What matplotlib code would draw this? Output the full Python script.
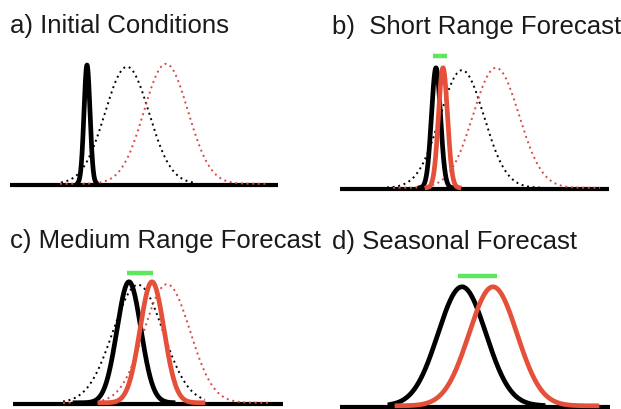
import numpy as np
import matplotlib
matplotlib.use("Agg")
import matplotlib.pyplot as plt

plt.rcParams['font.family'] = ['Liberation Sans', 'DejaVu Sans']

W, H = 621, 409

# ---- data: curve parameters per panel (x in panel units, height relative) ----
titles = ["a) Initial Conditions", "b)  Short Range Forecast",
          "c) Medium Range Forecast", "d) Seasonal Forecast"]

# each curve: mean, sigma, amplitude, x-range lo, hi
a_means = [77, 117, 156]
a_sigmas = [3, 22, 22]
a_amps = [0.99, 0.975, 1.0]
a_lo = [68, 51, 50]
a_hi = [86, 183, 258]
a_kinds = ["solid_black", "dot_black", "dot_red"]

b_means = [96, 103, 122, 156]
b_sigmas = [4.5, 4.5, 22, 23]
b_amps = [1.0, 1.0, 0.98, 1.0]
b_lo = [80, 87, 47, 53]
b_hi = [112, 119, 200, 260]
b_kinds = ["solid_black", "solid_red", "dot_black", "dot_red"]

c_means = [116, 139, 125, 154]
c_sigmas = [12, 12, 25, 23]
c_amps = [1.0, 1.0, 0.975, 0.98]
c_lo = [62, 87, 50, 50]
c_hi = [160, 190, 192, 257]
c_kinds = ["solid_black", "solid_red", "dot_black", "dot_red"]

d_means = [122, 153]
d_sigmas = [24, 24]
d_amps = [1.0, 1.0]
d_lo = [50, 57]
d_hi = [203, 257]
d_kinds = ["solid_black", "solid_red"]

# green spread bars: (x start, x end, height)
green_b = [93, 107, 1.11]
green_c = [114, 140, 1.08]
green_d = [118, 157, 1.10]

panels = [
    (a_means, a_sigmas, a_amps, a_lo, a_hi, a_kinds, None),
    (b_means, b_sigmas, b_amps, b_lo, b_hi, b_kinds, green_b),
    (c_means, c_sigmas, c_amps, c_lo, c_hi, c_kinds, green_c),
    (d_means, d_sigmas, d_amps, d_lo, d_hi, d_kinds, green_d),
]

# layout in pixels: left, baseline y, width, height(of unit amplitude)
layout = [(10, 185, 268, 120), (340, 189, 269, 120),
          (13, 404, 270, 121), (340, 407, 270, 119)]
title_pos = [(10, 33), (332, 34), (10, 248), (332, 249)]

styles = {
    "solid_black": dict(color="black", lw=3.4, ls="-", zorder=4),
    "solid_red": dict(color="#e5503a", lw=3.4, ls="-", zorder=5),
    "dot_black": dict(color="black", lw=1.4, ls=(0, (1.0, 1.9)), zorder=3),
    "dot_red": dict(color="#d84a44", lw=1.4, ls=(0, (1.0, 1.9)), zorder=3),
}

fig = plt.figure(figsize=(W / 100, H / 100), dpi=100)
fig.patch.set_facecolor("white")

for (means, sigmas, amps, lo, hi, kinds, green), (lx, by, pw, ph), title, (tx, ty) in zip(
        panels, layout, titles, title_pos):
    ax = fig.add_axes([lx / W, 1 - by / H, pw / W, ph / H])
    ax.set_xlim(0, pw)
    ax.set_ylim(0, 1)
    ax.axis("off")
    ax.plot([0, pw], [0, 0], color="black", lw=3.0, solid_capstyle="butt",
            zorder=2, clip_on=False)
    for m, s, a, l, h, k in zip(means, sigmas, amps, lo, hi, kinds):
        x = np.linspace(l, h, 400)
        y = a * np.exp(-0.5 * ((x - m) / s) ** 2)
        st = styles[k]
        ax.plot(x, y + 0.01, color=st["color"], lw=st["lw"], ls=st["ls"],
                zorder=st["zorder"], clip_on=False, solid_joinstyle="round")
    if green is not None:
        ax.plot([green[0], green[1]], [green[2], green[2]], color="#5fe65f",
                lw=3.2, solid_capstyle="butt", clip_on=False, zorder=6)
    fig.text(tx / W, 1 - ty / H, title, ha="left", va="baseline",
             fontsize=18.5, color="#1a1a1a")

fig.savefig("out.png", dpi=100, facecolor="white")
